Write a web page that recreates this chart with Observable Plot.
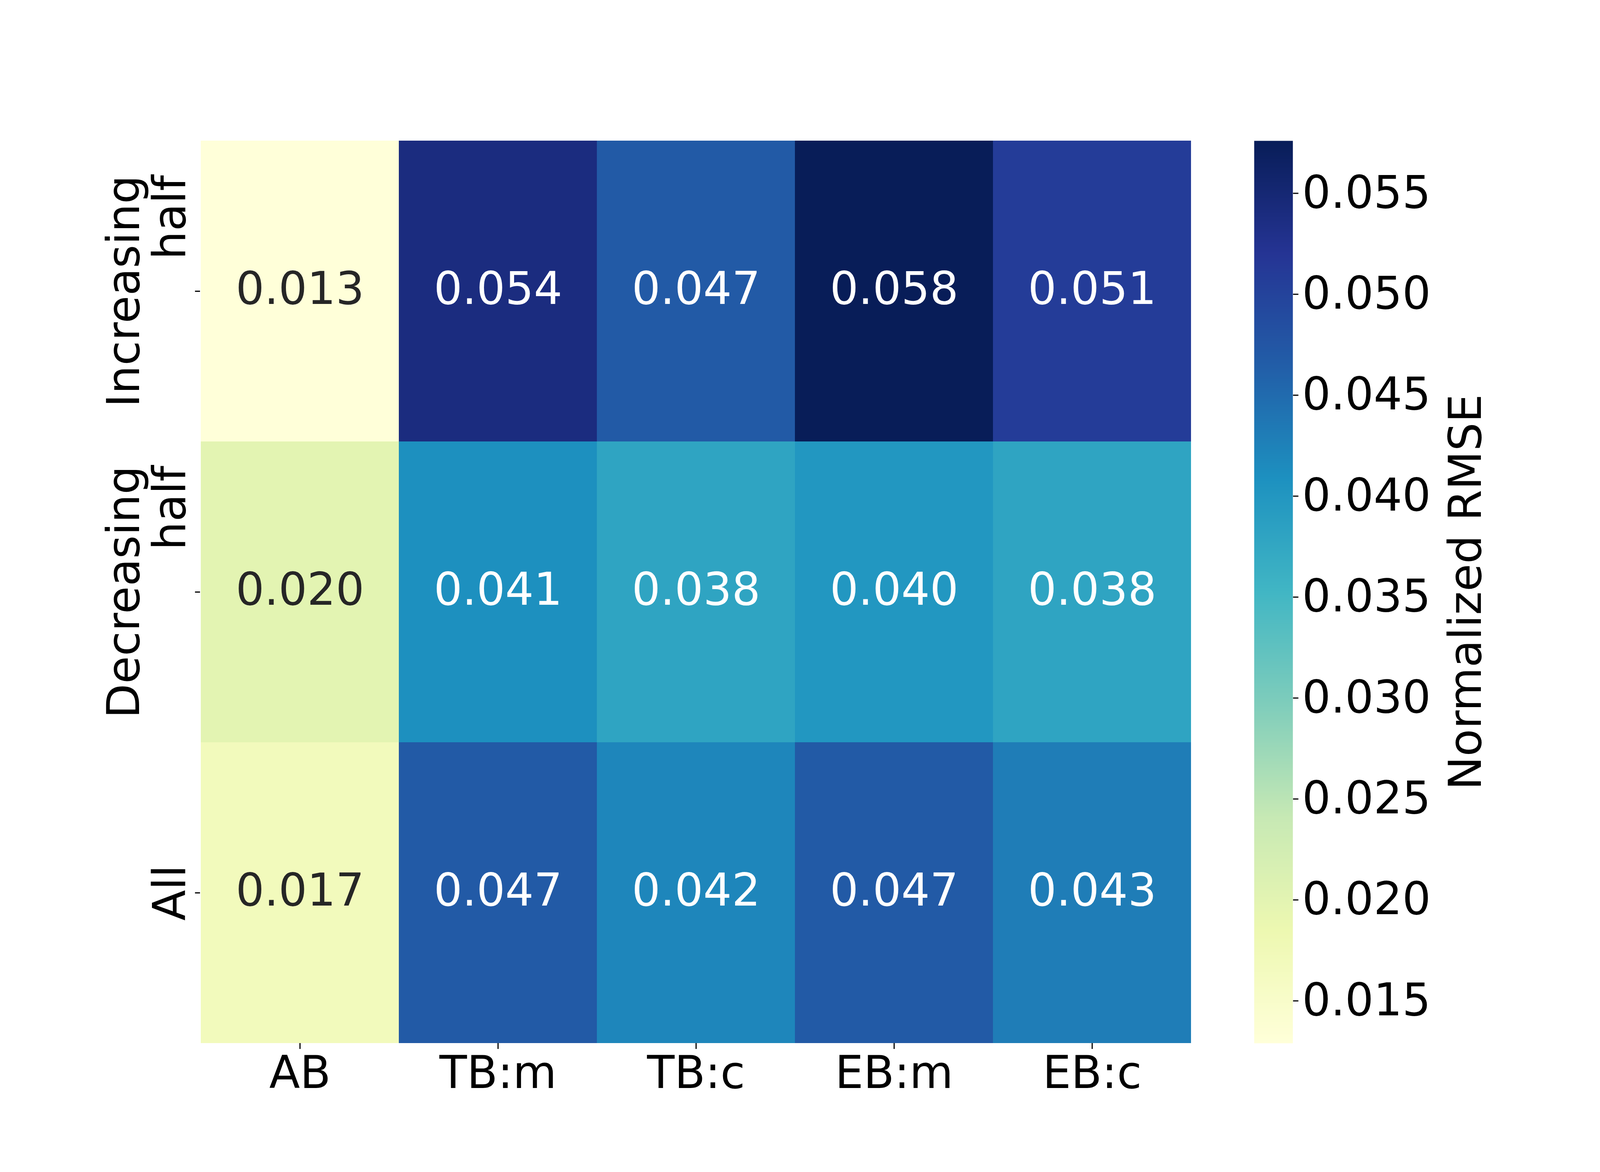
<!DOCTYPE html>
<html>
<head>
<meta charset="utf-8">
<script src="https://cdn.jsdelivr.net/npm/d3@7"></script>
<script src="https://cdn.jsdelivr.net/npm/@observablehq/plot@0.6"></script>
<style>
  html, body { margin: 0; padding: 0; background: #fff; overflow: hidden; }
  svg { display: block; }
</style>
</head>
<body>
<script>
// ---- data ----
const methods = ["AB", "TB:m", "TB:c", "EB:m", "EB:c"];
const segments = ["Increasing\nhalf", "Decreasing\nhalf", "All"];
const rmseIncreasing = [0.0129, 0.054, 0.047, 0.0576, 0.051];
const rmseDecreasing = [0.020, 0.041, 0.038, 0.040, 0.038];
const rmseAll = [0.017, 0.047, 0.042, 0.047, 0.043];
const colorbarTicks = [0.015, 0.020, 0.025, 0.030, 0.035, 0.040, 0.045, 0.050, 0.055];
const colorbarLabel = "Normalized RMSE";

// ---- styling / layout (designed on a 4800x3000 canvas, fitted to the real viewport) ----
const ylgnbu = ["#ffffd9", "#edf8b1", "#c7e9b4", "#7fcdbb", "#41b6c4", "#1d91c0", "#225ea8", "#253494", "#081d58"];
const FONT = "DejaVu Sans";
const W0 = 4800, H0 = 3000;
const kx = Math.min(1, (window.innerWidth || W0) / W0);
const ky = Math.min(1, (window.innerHeight || H0) / H0);
const FS = Math.round(125 * Math.sqrt(kx * ky));
const W = Math.round(W0 * kx), H = Math.round(H0 * ky);
const X = v => v * kx, Y = v => v * ky;
const L = X(600), R = X(3576), T = Y(360), B = Y(2670);
const CB_L = X(3762), CB_R = X(3878);

const table = [];
[rmseIncreasing, rmseDecreasing, rmseAll].forEach((vals, i) =>
  vals.forEach((v, j) => table.push({segment: segments[i], method: methods[j], value: v})));

const [lo, hi] = d3.extent(table, d => d.value);
const stops = ylgnbu.map((_, i) => lo + (hi - lo) * i / (ylgnbu.length - 1));
const colorOpts = {type: "linear", domain: stops, range: ylgnbu, interpolate: "rgb"};

// annotation colour picked from the luminance of the cell colour (as seaborn does)
const cmap = d3.scaleLinear(stops, ylgnbu).interpolate(d3.interpolateRgb);
function luminance(c) {
  const {r, g, b} = d3.rgb(c);
  const f = v => { v /= 255; return v <= 0.03928 ? v / 12.92 : Math.pow((v + 0.055) / 1.055, 2.4); };
  return 0.2126 * f(r) + 0.7152 * f(g) + 0.0722 * f(b);
}
const isLight = d => luminance(cmap(d.value)) > 0.408;

const ctx = document.createElement("canvas").getContext("2d");
ctx.font = `${FS}px "${FONT}"`;
const widest = s => d3.max(s.split("\n"), line => ctx.measureText(line).width);

const style = {fontFamily: FONT, fontSize: FS + "px", background: "white", color: "black", maxWidth: "none", overflow: "visible"};
const fmt = d3.format(".3f");

const rowLabels = segments.map(s => Plot.text([s], {
  y: d => d, frameAnchor: "left", dx: X(-45), dy: -widest(s) / 2,
  rotate: -90, textAnchor: "end", lineAnchor: "bottom", lineHeight: X(138) / FS,
  fontSize: FS, fill: "black"
}));

const main = Plot.plot({
  width: W, height: H,
  marginLeft: L, marginRight: W - R, marginTop: T, marginBottom: H - B,
  style,
  x: {domain: methods, padding: 0, label: null},
  y: {domain: segments, padding: 0, label: null},
  color: colorOpts,
  marks: [
    Plot.cell(table, {x: "method", y: "segment", fill: "value", inset: 0, shapeRendering: "crispEdges"}),
    Plot.text(table, {x: "method", y: "segment", text: d => fmt(d.value), filter: isLight, fill: "#262626", fontSize: FS, dy: Y(-4)}),
    Plot.text(table, {x: "method", y: "segment", text: d => fmt(d.value), filter: d => !isLight(d), fill: "white", fontSize: FS, dy: Y(-4)}),
    Plot.axisX({tickSize: Y(15), tickPadding: Y(18), strokeWidth: 3, label: null}),
    Plot.axisY({tickSize: X(15), tickFormat: () => "", strokeWidth: 3, label: null}),
    ...rowLabels
  ]
});

const cbar = Plot.plot({
  width: W, height: H,
  marginLeft: CB_L, marginRight: W - CB_R, marginTop: T, marginBottom: H - B,
  style: {...style, background: "none"},
  x: {domain: [0, 1], axis: null},
  y: {domain: [lo, hi], axis: null},
  color: colorOpts,
  marks: [
    Plot.raster({x1: 0, x2: 1, y1: lo, y2: hi, fill: (x, y) => y, width: 1, height: 1200, imageRendering: "auto"}),
    Plot.axisY({anchor: "right", ticks: colorbarTicks, tickFormat: fmt, tickSize: X(16), tickPadding: X(12), strokeWidth: 3, label: null}),
    Plot.text([colorbarLabel], {frameAnchor: "right", dx: X(564), rotate: -90, textAnchor: "middle", lineAnchor: "bottom", fontSize: FS, fill: "black"})
  ]
});

// one SVG for the whole figure: the colour bar is nested inside the heatmap's SVG
cbar.setAttribute("x", 0);
cbar.setAttribute("y", 0);
main.appendChild(cbar);
main.style.width = W + "px";
main.style.height = H + "px";
document.body.appendChild(main);
</script>
</body>
</html>
